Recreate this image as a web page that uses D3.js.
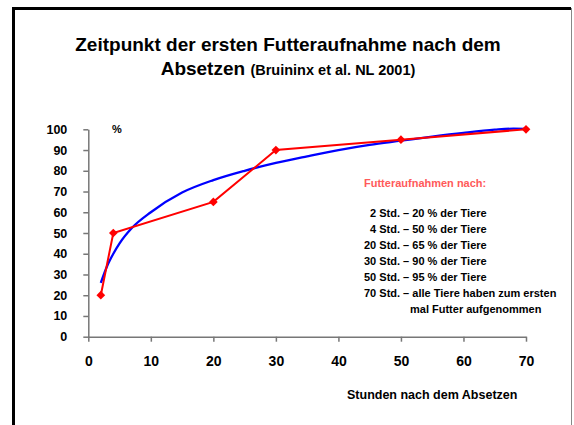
<!DOCTYPE html>
<html>
<head>
<meta charset="utf-8">
<script src="https://cdn.jsdelivr.net/npm/d3@7"></script>
<style>
  body { margin: 0; background: #fff; }
  svg { display: block; font-family: "Liberation Sans", Arial, sans-serif; font-weight: bold; }
</style>
</head>
<body>
<svg width="574" height="425"></svg>
<script>
// data
const hours = [2, 4, 20, 30, 50, 70];
const percent = [20, 50, 65, 90, 95, 100];
const trendHours = [2, 3, 4, 5, 7, 10, 15, 20, 25, 30, 35, 40, 45, 50, 55, 60, 65, 68, 70];
const trendPercent = [26, 34, 40, 45, 52.5, 60, 69.5, 75.5, 80, 83.8, 87, 90, 92.5, 94.5, 96.5, 98.3, 99.8, 100.3, 100.2];
const xTicks = [0, 10, 20, 30, 40, 50, 60, 70];
const yTicks = [0, 10, 20, 30, 40, 50, 60, 70, 80, 90, 100];
const noteHours = [2, 4, 20, 30, 50, 70];
const noteTexts = ["20 % der Tiere", "50 % der Tiere", "65 % der Tiere", "90 % der Tiere", "95 % der Tiere", "alle Tiere haben zum ersten"];

const svg = d3.select("svg");

// frame
svg.append("path")
    .attr("d", "M13.5,425 L13.5,8.5 L571,8.5")
    .attr("fill", "none")
    .attr("stroke", "#000")
    .attr("stroke-width", 3);
svg.append("line")
    .attr("x1", 571.5).attr("x2", 571.5)
    .attr("y1", 8).attr("y2", 425)
    .attr("stroke", "#888")
    .attr("stroke-width", 1);

// title
svg.append("text")
    .attr("x", 288).attr("y", 51)
    .attr("text-anchor", "middle")
    .style("font-size", "19px")
    .text("Zeitpunkt der ersten Futteraufnahme nach dem");
const t2 = svg.append("text")
    .attr("x", 288).attr("y", 75)
    .attr("text-anchor", "middle")
    .style("font-size", "19px");
t2.append("tspan").text("Absetzen ");
t2.append("tspan").style("font-size", "14.5px").text("(Bruininx et al. NL 2001)");

// scales
const x = d3.scaleLinear().domain([0, 70]).range([88.3, 526]);
const y = d3.scaleLinear().domain([0, 100]).range([336.7, 129.3]);

// axes
const xAxis = svg.append("g")
    .attr("transform", `translate(0,${y(0)})`)
    .call(d3.axisBottom(x).tickValues(xTicks).tickSize(5).tickPadding(14).tickSizeOuter(0));
const yAxis = svg.append("g")
    .attr("transform", `translate(${x(0)},0)`)
    .call(d3.axisLeft(y).tickValues(yTicks).tickSize(5).tickPadding(16).tickSizeOuter(0));

xAxis.selectAll("text").style("font-size", "14px").attr("fill", "#000");
yAxis.selectAll("text").style("font-size", "12.5px").attr("fill", "#000");
svg.selectAll(".domain, .tick line").attr("stroke", "#777").attr("stroke-width", 1.5);
svg.selectAll(".tick text").style("font-family", "'Liberation Sans', Arial, sans-serif").style("font-weight", "bold");

// axis captions
svg.append("text")
    .attr("x", 112).attr("y", 133)
    .style("font-size", "11px")
    .text("%");
svg.append("text")
    .attr("x", 347).attr("y", 399)
    .style("font-size", "12.5px")
    .text("Stunden nach dem Absetzen");

// trend line (blue)
const trend = trendHours.map((h, i) => [h, trendPercent[i]]);
svg.append("path")
    .datum(trend)
    .attr("fill", "none")
    .attr("stroke", "#0000ff")
    .attr("stroke-width", 2.3)
    .attr("d", d3.line().x(d => x(d[0])).y(d => y(d[1])).curve(d3.curveMonotoneX));

// measured line (red)
const pts = hours.map((h, i) => [h, percent[i]]);
svg.append("path")
    .datum(pts)
    .attr("fill", "none")
    .attr("stroke", "#ff0000")
    .attr("stroke-width", 2)
    .attr("d", d3.line().x(d => x(d[0])).y(d => y(d[1])));

svg.selectAll(".marker")
    .data(pts)
    .enter().append("path")
    .attr("class", "marker")
    .attr("transform", d => `translate(${x(d[0])},${y(d[1])}) rotate(45)`)
    .attr("d", d3.symbol().type(d3.symbolSquare).size(38))
    .attr("fill", "#ff0000");

// notes
svg.append("text")
    .attr("x", 364).attr("y", 187.3)
    .attr("fill", "#ff5a5a")
    .style("font-size", "11px")
    .text("Futteraufnahmen nach:");

const notes = svg.append("g").style("font-size", "11px");
noteHours.forEach((h, i) => {
    notes.append("text")
        .attr("x", h < 10 ? 370 : 364)
        .attr("y", 217.3 + i * 15.9)
        .text(`${h} Std. – ${noteTexts[i]}`);
});
notes.append("text")
    .attr("x", 410)
    .attr("y", 217.3 + 6 * 15.9)
    .text("mal Futter aufgenommen");
</script>
</body>
</html>
